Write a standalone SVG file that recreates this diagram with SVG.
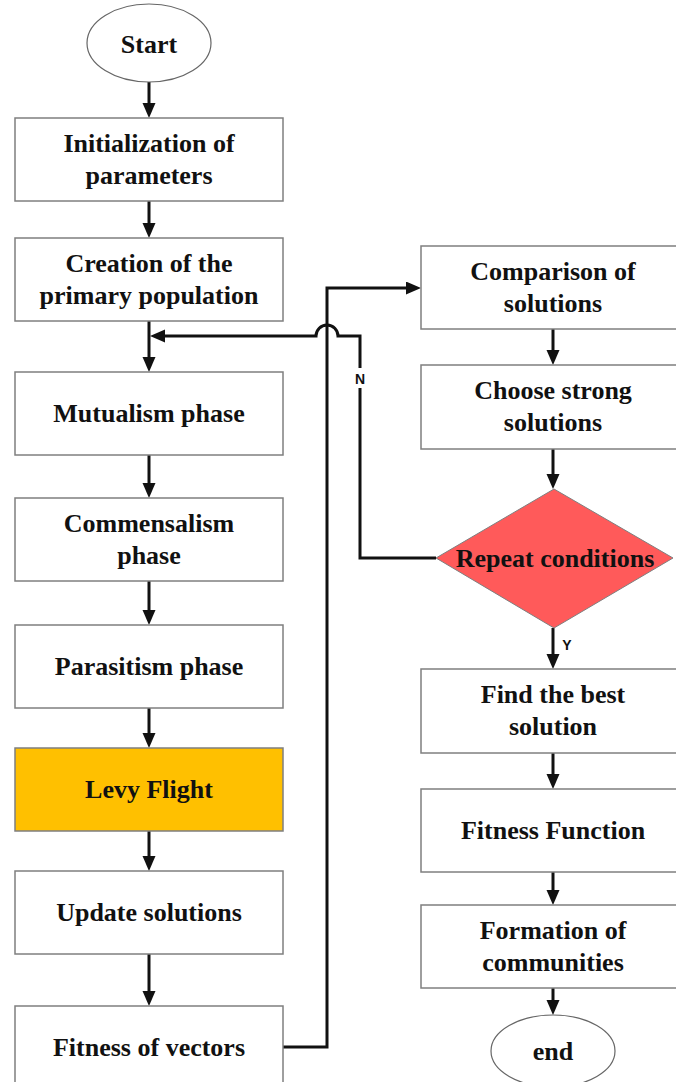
<svg xmlns="http://www.w3.org/2000/svg" width="676" height="1082" viewBox="0 0 676 1082">
<style>
.box{fill:#fff;stroke:#7f7f7f;stroke-width:1.5}
.lbl{font-family:"Liberation Serif","Times New Roman",serif;font-weight:bold;font-size:26px;fill:#111;text-anchor:middle}
.yn{font-family:"Liberation Sans",Arial,sans-serif;font-weight:bold;font-size:14px;fill:#111;text-anchor:middle}
.c{fill:none;stroke:#111;stroke-width:3}
</style>
<defs>
<marker id="ah" markerUnits="userSpaceOnUse" markerWidth="16" markerHeight="14" refX="9" refY="6.5" orient="auto">
<path d="M0,0 L15,6.5 L0,13 z" fill="#111"/>
</marker>
</defs>
<rect width="676" height="1082" fill="#fff"/>
<g id="connectors">
<line class="c" x1="149" y1="82" x2="149" y2="112" marker-end="url(#ah)"/>
<line class="c" x1="149" y1="201" x2="149" y2="232" marker-end="url(#ah)"/>
<line class="c" x1="149" y1="321" x2="149" y2="366" marker-end="url(#ah)"/>
<line class="c" x1="149" y1="455" x2="149" y2="492" marker-end="url(#ah)"/>
<line class="c" x1="149" y1="581" x2="149" y2="619" marker-end="url(#ah)"/>
<line class="c" x1="149" y1="708" x2="149" y2="742" marker-end="url(#ah)"/>
<line class="c" x1="149" y1="831" x2="149" y2="865" marker-end="url(#ah)"/>
<line class="c" x1="149" y1="954" x2="149" y2="1000" marker-end="url(#ah)"/>
<path class="c" d="M283,1047 H327 V288 H415" marker-end="url(#ah)"/>
<path class="c" d="M436,558 H360 V336 H338 A11,11 0 0 0 316,336 H156" marker-end="url(#ah)"/>
<line class="c" x1="553" y1="329" x2="553" y2="359" marker-end="url(#ah)"/>
<line class="c" x1="553" y1="449" x2="553" y2="483" marker-end="url(#ah)"/>
<line class="c" x1="553" y1="628" x2="553" y2="663" marker-end="url(#ah)"/>
<line class="c" x1="553" y1="753" x2="553" y2="783" marker-end="url(#ah)"/>
<line class="c" x1="553" y1="872" x2="553" y2="899" marker-end="url(#ah)"/>
<line class="c" x1="553" y1="988" x2="553" y2="1009" marker-end="url(#ah)"/>
<rect x="352" y="368" width="16" height="20" fill="#fff"/>
<text class="yn" x="360" y="384">N</text>
<text class="yn" x="567" y="650">Y</text>
</g>
<g id="start">
<ellipse cx="149" cy="43" rx="62" ry="39" fill="#fff" stroke="#666" stroke-width="1.2"/>
<text class="lbl" x="149" y="53">Start</text>
</g>
<g id="init">
<rect class="box" x="15" y="118" width="268" height="83"/>
<text class="lbl" x="149" y="152">Initialization of</text>
<text class="lbl" x="149" y="184">parameters</text>
</g>
<g id="creation">
<rect class="box" x="15" y="238" width="268" height="83"/>
<text class="lbl" x="149" y="272">Creation of the</text>
<text class="lbl" x="149" y="304">primary population</text>
</g>
<g id="mutualism">
<rect class="box" x="15" y="372" width="268" height="83"/>
<text class="lbl" x="149" y="422">Mutualism phase</text>
</g>
<g id="commensalism">
<rect class="box" x="15" y="498" width="268" height="83"/>
<text class="lbl" x="149" y="532">Commensalism</text>
<text class="lbl" x="149" y="564">phase</text>
</g>
<g id="parasitism">
<rect class="box" x="15" y="625" width="268" height="83"/>
<text class="lbl" x="149" y="675">Parasitism phase</text>
</g>
<g id="levy">
<rect class="box" x="15" y="748" width="268" height="83" style="fill:#ffc000"/>
<text class="lbl" x="149" y="798">Levy Flight</text>
</g>
<g id="update">
<rect class="box" x="15" y="871" width="268" height="83"/>
<text class="lbl" x="149" y="921">Update solutions</text>
</g>
<g id="fitnessvectors">
<rect class="box" x="15" y="1006" width="268" height="90"/>
<text class="lbl" x="149" y="1056">Fitness of vectors</text>
</g>
<g id="comparison">
<rect class="box" x="421" y="246" width="264" height="83"/>
<text class="lbl" x="553" y="280">Comparison of</text>
<text class="lbl" x="553" y="312">solutions</text>
</g>
<g id="choose">
<rect class="box" x="421" y="365" width="264" height="84"/>
<text class="lbl" x="553" y="399">Choose strong</text>
<text class="lbl" x="553" y="431">solutions</text>
</g>
<g id="repeat">
<polygon points="554,489 673,558 554,628 436,558" fill="#ff5a5a" stroke="#7f7f7f" stroke-width="1"/>
<text class="lbl" x="555" y="567">Repeat conditions</text>
</g>
<g id="findbest">
<rect class="box" x="421" y="669" width="264" height="84"/>
<text class="lbl" x="553" y="703">Find the best</text>
<text class="lbl" x="553" y="735">solution</text>
</g>
<g id="fitnessfunction">
<rect class="box" x="421" y="789" width="264" height="83"/>
<text class="lbl" x="553" y="839">Fitness Function</text>
</g>
<g id="formation">
<rect class="box" x="421" y="905" width="264" height="83"/>
<text class="lbl" x="553" y="939">Formation of</text>
<text class="lbl" x="553" y="971">communities</text>
</g>
<g id="end">
<ellipse cx="553" cy="1051" rx="62" ry="36" fill="#fff" stroke="#666" stroke-width="1.2"/>
<text class="lbl" x="553" y="1060">end</text>
</g>
</svg>
